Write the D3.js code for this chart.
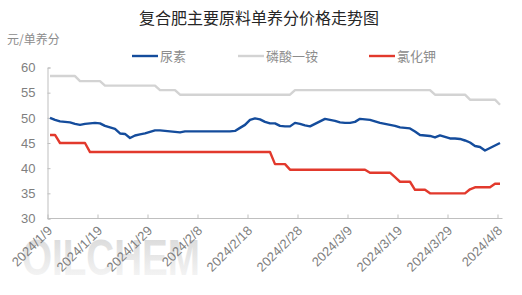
<!DOCTYPE html>
<html>
<meta charset="utf-8">
<title>复合肥主要原料单养分价格走势图</title>
<style>
body {
  margin: 0;
  background: #fff;
  font-family: "Noto Sans CJK SC", "Noto Sans", sans-serif;
}

.axis path, .axis line {
  stroke: #bfbfbf;
}

.axis text {
  fill: #7f7f7f;
  font-size: 13px;
}

.line {
  fill: none;
  stroke-width: 2.4px;
  stroke-linejoin: round;
}
</style>
<body>
<div id="chart"></div>
<script src="https://d3js.org/d3.v7.min.js"></script>
<script>

var width = 522,
  height = 295;

// daily prices, 2024/1/9 .. 2024/4/8
var startDay = "2024-01-09",
  endDay = "2024-04-09";

var tickDates = ["2024-01-09", "2024-01-19", "2024-01-29", "2024-02-08", "2024-02-18",
  "2024-02-28", "2024-03-09", "2024-03-19", "2024-03-29", "2024-04-08"];

var yTicks = [30, 35, 40, 45, 50, 55, 60];

var seriesNames = ["尿素", "磷酸一铵", "氯化钾"];

var urea = [
  50.0, 49.6, 49.3, 49.2, 49.1, 48.8, 48.6, 48.8, 48.9, 49.0,
  48.9, 48.4, 48.1, 47.8, 46.9, 46.8, 46.0, 46.5, 46.7, 46.9,
  47.2, 47.5, 47.5, 47.4, 47.3, 47.2, 47.1, 47.3, 47.3, 47.3,
  47.3, 47.3, 47.3, 47.3, 47.3, 47.3, 47.3, 47.4, 48.0, 48.6,
  49.6, 49.9, 49.7, 49.2, 48.9, 48.9, 48.4, 48.3, 48.3, 49.0,
  48.8, 48.5, 48.3, 48.8, 49.3, 49.8, 49.6, 49.4, 49.1, 49.0,
  49.0, 49.2, 49.8, 49.7, 49.6, 49.3, 49.0, 48.8, 48.6, 48.4,
  48.1, 48.0, 47.9, 47.3, 46.6, 46.5, 46.4, 46.1, 46.5, 46.2,
  45.9, 45.9, 45.8, 45.5, 45.1, 44.4, 44.2, 43.5, 44.0, 44.5,
  45.0
];

var map = [
  58.3, 58.3, 58.3, 58.3, 58.3, 58.3, 57.3, 57.3, 57.3, 57.3,
  57.3, 56.4, 56.4, 56.4, 56.4, 56.4, 56.4, 56.4, 56.4, 56.4,
  56.4, 56.4, 55.5, 55.5, 55.5, 55.5, 54.6, 54.6, 54.6, 54.6,
  54.6, 54.6, 54.6, 54.6, 54.6, 54.6, 54.6, 54.6, 54.6, 54.6,
  54.6, 54.6, 54.6, 54.6, 54.6, 54.6, 54.6, 54.6, 54.6, 55.5,
  55.5, 55.5, 55.5, 55.5, 55.5, 55.5, 55.5, 55.5, 55.5, 55.5,
  55.5, 55.5, 55.5, 55.5, 55.5, 55.5, 55.5, 55.5, 55.5, 55.5,
  55.5, 55.5, 55.5, 55.5, 55.5, 55.5, 55.5, 54.6, 54.6, 54.6,
  54.6, 54.6, 54.6, 54.6, 53.6, 53.6, 53.6, 53.6, 53.6, 53.6,
  52.6
];

var potash = [
  46.6, 46.6, 45.0, 45.0, 45.0, 45.0, 45.0, 45.0, 43.2, 43.2,
  43.2, 43.2, 43.2, 43.2, 43.2, 43.2, 43.2, 43.2, 43.2, 43.2,
  43.2, 43.2, 43.2, 43.2, 43.2, 43.2, 43.2, 43.2, 43.2, 43.2,
  43.2, 43.2, 43.2, 43.2, 43.2, 43.2, 43.2, 43.2, 43.2, 43.2,
  43.2, 43.2, 43.2, 43.2, 43.2, 40.8, 40.8, 40.8, 39.7, 39.7,
  39.7, 39.7, 39.7, 39.7, 39.7, 39.7, 39.7, 39.7, 39.7, 39.7,
  39.7, 39.7, 39.7, 39.7, 39.1, 39.1, 39.1, 39.1, 39.1, 38.2,
  37.3, 37.3, 37.3, 35.7, 35.7, 35.7, 35.0, 35.0, 35.0, 35.0,
  35.0, 35.0, 35.0, 35.0, 35.8, 36.2, 36.2, 36.2, 36.2, 36.9,
  36.9
];

var colors = ["#144c9c", "#d3d3d3", "#e2392c"];

var parseDay = d3.timeParse("%Y-%m-%d"),
  formatTick = d3.timeFormat("%Y/%-m/%-d");

var days = d3.timeDay.range(parseDay(startDay), parseDay(endDay));

var svg = d3.select("#chart").append("svg")
  .attr("width", width)
  .attr("height", height);

var x = d3.scaleTime()
  .domain([parseDay(startDay), parseDay(endDay)])
  .range([47.5, 502.5]);

var y = d3.scaleLinear()
  .domain([30, 60])
  .range([218.5, 67.5]);

// watermark
var grad = svg.append("defs").append("linearGradient")
  .attr("id", "wm")
  .attr("x1", 0).attr("y1", 0)
  .attr("x2", 0).attr("y2", 1);
grad.append("stop").attr("offset", "0%").attr("stop-color", "#d6d6d6");
grad.append("stop").attr("offset", "100%").attr("stop-color", "#fafafa");

svg.append("text")
  .attr("x", 22)
  .attr("y", 275)
  .attr("textLength", 178)
  .attr("lengthAdjust", "spacingAndGlyphs")
  .style("font-family", "Liberation Sans, sans-serif")
  .style("font-weight", "bold")
  .style("font-size", "50px")
  .style("fill", "url(#wm)")
  .text("OILCHEM");

// title
svg.append("text")
  .attr("x", 259)
  .attr("y", 24)
  .attr("text-anchor", "middle")
  .style("font-size", "16px")
  .style("fill", "#262626")
  .text("复合肥主要原料单养分价格走势图");

svg.append("text")
  .attr("x", 7)
  .attr("y", 44)
  .style("font-size", "12px")
  .style("fill", "#8c8c8c")
  .text("元/单养分");

// axes
var yAxis = svg.append("g")
  .attr("class", "axis")
  .attr("transform", "translate(47.5,0)")
  .call(d3.axisRight(y).tickValues(yTicks).tickSize(3).tickFormat(d3.format("d")));
yAxis.selectAll("text")
  .attr("x", -12)
  .attr("text-anchor", "end");

var xAxis = svg.append("g")
  .attr("class", "axis")
  .attr("transform", "translate(0,218.5)")
  .call(d3.axisTop(x).tickValues(tickDates.map(parseDay)).tickSize(4).tickSizeOuter(0).tickFormat(formatTick));
xAxis.select(".domain").attr("d", "M47.5,0H502.5");
xAxis.selectAll("text")
  .attr("y", 0)
  .attr("dy", 0)
  .attr("text-anchor", "end")
  .attr("transform", "translate(5,13) rotate(-45)");

// lines
var line = d3.line()
  .x(function(d, i) { return x(d3.timeHour.offset(days[i], 12)); })
  .y(function(d) { return y(d); });

[map, potash, urea].forEach(function(s) {
  var k = s === urea ? 0 : s === map ? 1 : 2;
  svg.append("path")
    .datum(s)
    .attr("class", "line")
    .attr("d", line)
    .style("stroke", colors[k]);
});

// legend
var legendX = [132, 238, 369];
var legend = svg.append("g").selectAll("g")
  .data(seriesNames)
  .enter().append("g")
  .attr("transform", function(d, i) { return "translate(" + legendX[i] + ",56)"; });

legend.append("line")
  .attr("x1", 0)
  .attr("x2", 26)
  .style("stroke", function(d, i) { return colors[i]; })
  .style("stroke-width", "2.4px");

legend.append("text")
  .attr("x", 28)
  .attr("dy", ".35em")
  .style("font-size", "13px")
  .style("fill", "#8c8c8c")
  .text(function(d) { return d; });

</script>
